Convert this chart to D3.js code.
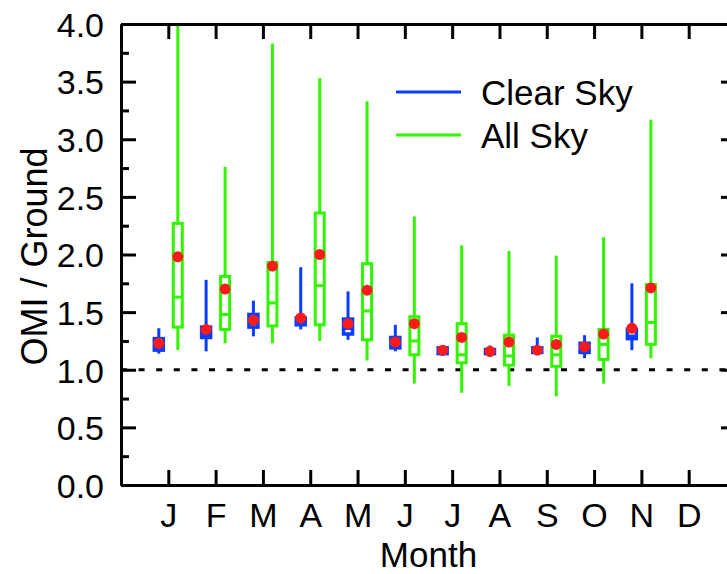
<!DOCTYPE html>
<html>
<head>
<meta charset="utf-8">
<script src="https://cdn.jsdelivr.net/npm/d3@7/dist/d3.min.js"></script>
<style>
  html, body { margin: 0; padding: 0; background: #fff; }
  svg { display: block; }
  text { font-family: "Liberation Sans", Arial, Helvetica, sans-serif; fill: #000; }
</style>
</head>
<body>
<svg id="chart" width="727" height="574"></svg>
<script>
// ---- data ----
const monthLabels = ["J","F","M","A","M","J","J","A","S","O","N","D"];
const monthIndex  = [1,2,3,4,5,6,7,8,9,10,11,12];
const yMajorTicks = [0,0.5,1.0,1.5,2.0,2.5,3.0,3.5,4.0];
const yMinorTicks = [0.25,0.75,1.25,1.75,2.25,2.75,3.25,3.75];

// Clear Sky (Jan..Nov)
const clearMin  = [1.14,1.16,1.29,1.35,1.26,1.16,1.12,1.11,1.13,1.10,1.17];
const clearQ1   = [1.17,1.28,1.37,1.39,1.31,1.19,1.14,1.14,1.15,1.15,1.27];
const clearMed  = [1.19,1.30,1.40,1.42,1.36,1.22,1.17,1.16,1.17,1.18,1.29];
const clearQ3   = [1.27,1.37,1.48,1.45,1.44,1.28,1.19,1.175,1.19,1.23,1.35];
const clearMax  = [1.36,1.78,1.60,1.89,1.68,1.39,1.21,1.21,1.28,1.30,1.75];
const clearMean = [1.23,1.35,1.43,1.45,1.40,1.24,1.17,1.16,1.17,1.20,1.36];

// All Sky (Jan..Nov)
const allMin  = [1.17,1.23,1.23,1.25,1.08,0.88,0.80,0.86,0.77,0.88,1.10];
const allQ1   = [1.37,1.35,1.38,1.39,1.26,1.13,1.06,1.04,1.03,1.09,1.22];
const allMed  = [1.63,1.48,1.58,1.73,1.51,1.25,1.13,1.12,1.13,1.22,1.41];
const allQ3   = [2.27,1.81,1.93,2.36,1.92,1.46,1.40,1.30,1.29,1.35,1.74];
const allMax  = [4.05,2.76,3.83,3.53,3.33,2.33,2.08,2.03,1.99,2.15,3.17];
const allMean = [1.98,1.70,1.90,2.00,1.69,1.40,1.28,1.24,1.22,1.31,1.71];

const refLine = 1.0;

// ---- layout ----
const L = 121, R = 736, T = 24, B = 485;
const BLUE = "#0a3cff", GREEN = "#33f500", RED = "#ff1a1a";

const svg = d3.select("#chart");
const x = d3.scaleLinear().domain([0, 13]).range([L, R]);
const y = d3.scaleLinear().domain([0, 4]).range([B, T]);

function build(mins, q1, med, q3, maxs, means) {
  return mins.map((d, i) => ({m: i + 1, min: d, q1: q1[i], med: med[i], q3: q3[i], max: maxs[i], mean: means[i]}));
}
const clearData = build(clearMin, clearQ1, clearMed, clearQ3, clearMax, clearMean);
const allData   = build(allMin, allQ1, allMed, allQ3, allMax, allMean);

svg.append("defs").append("clipPath").attr("id", "plotclip")
  .append("rect").attr("x", L).attr("y", T).attr("width", R - L).attr("height", B - T);

const plot = svg.append("g").attr("clip-path", "url(#plotclip)");

// reference dashed line
plot.append("line")
  .attr("x1", x(0)).attr("x2", x(13))
  .attr("y1", y(refLine)).attr("y2", y(refLine))
  .attr("stroke", "#000").attr("stroke-width", 3)
  .attr("stroke-dasharray", "6,11.6");

function drawBoxes(data, offset, color, boxW, sw) {
  const g = plot.append("g");
  const sel = g.selectAll("g.box").data(data).enter().append("g").attr("class", "box");
  sel.append("line")
    .attr("x1", d => x(d.m) + offset).attr("x2", d => x(d.m) + offset)
    .attr("y1", d => y(d.q3)).attr("y2", d => y(d.max))
    .attr("stroke", color).attr("stroke-width", 3);
  sel.append("line")
    .attr("x1", d => x(d.m) + offset).attr("x2", d => x(d.m) + offset)
    .attr("y1", d => y(d.q1)).attr("y2", d => y(d.min))
    .attr("stroke", color).attr("stroke-width", 3);
  sel.append("rect")
    .attr("x", d => x(d.m) + offset - boxW / 2)
    .attr("width", boxW)
    .attr("y", d => y(d.q3))
    .attr("height", d => y(d.q1) - y(d.q3))
    .attr("fill", "#fff").attr("stroke", color).attr("stroke-width", sw);
  sel.append("line")
    .attr("x1", d => x(d.m) + offset - boxW / 2).attr("x2", d => x(d.m) + offset + boxW / 2)
    .attr("y1", d => y(d.med)).attr("y2", d => y(d.med))
    .attr("stroke", color).attr("stroke-width", sw);
}
drawBoxes(clearData, -9.5, BLUE, 9, 3.5);
drawBoxes(allData, 9.5, GREEN, 9, 3);

// means
plot.append("g").selectAll("circle").data(clearData).enter().append("circle")
  .attr("cx", d => x(d.m) - 9.5).attr("cy", d => y(d.mean)).attr("r", 5.5).attr("fill", RED);
plot.append("g").selectAll("circle").data(allData).enter().append("circle")
  .attr("cx", d => x(d.m) + 9.5).attr("cy", d => y(d.mean)).attr("r", 5.5).attr("fill", RED);

// ---- axes ----
function styleAxis(g) {
  g.selectAll("path.domain").attr("stroke", "#000").attr("stroke-width", 3);
  g.selectAll(".tick line").attr("stroke", "#000").attr("stroke-width", 3);
}
const fontSize = 34;

// left
const gl = svg.append("g").attr("transform", `translate(${L},0)`)
  .call(d3.axisLeft(y).tickValues(yMajorTicks).tickSize(-15).tickSizeOuter(0).tickPadding(17).tickFormat(d3.format(".1f")));
gl.selectAll("text").attr("font-size", fontSize).attr("dy", "0.36em").style("font-family", "Liberation Sans, Arial, sans-serif");
styleAxis(gl);
const glm = svg.append("g").attr("transform", `translate(${L},0)`)
  .call(d3.axisLeft(y).tickValues(yMinorTicks).tickSize(-8).tickSizeOuter(0).tickFormat(""));
styleAxis(glm);

// right
const gr = svg.append("g").attr("transform", `translate(${R},0)`)
  .call(d3.axisRight(y).tickValues(yMajorTicks).tickSize(-15).tickSizeOuter(0).tickFormat(""));
styleAxis(gr);
const grm = svg.append("g").attr("transform", `translate(${R},0)`)
  .call(d3.axisRight(y).tickValues(yMinorTicks).tickSize(-8).tickSizeOuter(0).tickFormat(""));
styleAxis(grm);

// bottom
const gb = svg.append("g").attr("transform", `translate(0,${B})`)
  .call(d3.axisBottom(x).tickValues(monthIndex).tickSize(-15).tickSizeOuter(0).tickPadding(18)
    .tickFormat(d => monthLabels[d - 1]));
gb.selectAll("text").attr("font-size", fontSize).style("font-family", "Liberation Sans, Arial, sans-serif");
styleAxis(gb);

// top
const gt = svg.append("g").attr("transform", `translate(0,${T})`)
  .call(d3.axisTop(x).tickValues(monthIndex).tickSize(-15).tickSizeOuter(0).tickFormat(""));
styleAxis(gt);

// axis titles
svg.append("text")
  .attr("x", (L + R) / 2).attr("y", 567)
  .attr("text-anchor", "middle").attr("font-size", 35)
  .text("Month");
svg.append("text")
  .attr("transform", `translate(47,${(T + B) / 2 + 2}) rotate(-90)`)
  .attr("text-anchor", "middle").attr("font-size", 36)
  .text("OMI / Ground");

// legend
const legend = [{label: "Clear Sky", color: BLUE, y: 92}, {label: "All Sky", color: GREEN, y: 135}];
const lg = svg.append("g");
lg.selectAll("line").data(legend).enter().append("line")
  .attr("x1", 396).attr("x2", 461).attr("y1", d => d.y).attr("y2", d => d.y)
  .attr("stroke", d => d.color).attr("stroke-width", 3);
lg.selectAll("text").data(legend).enter().append("text")
  .attr("x", 481).attr("y", d => d.y + 13)
  .attr("font-size", 35)
  .text(d => d.label);
</script>
</body>
</html>
